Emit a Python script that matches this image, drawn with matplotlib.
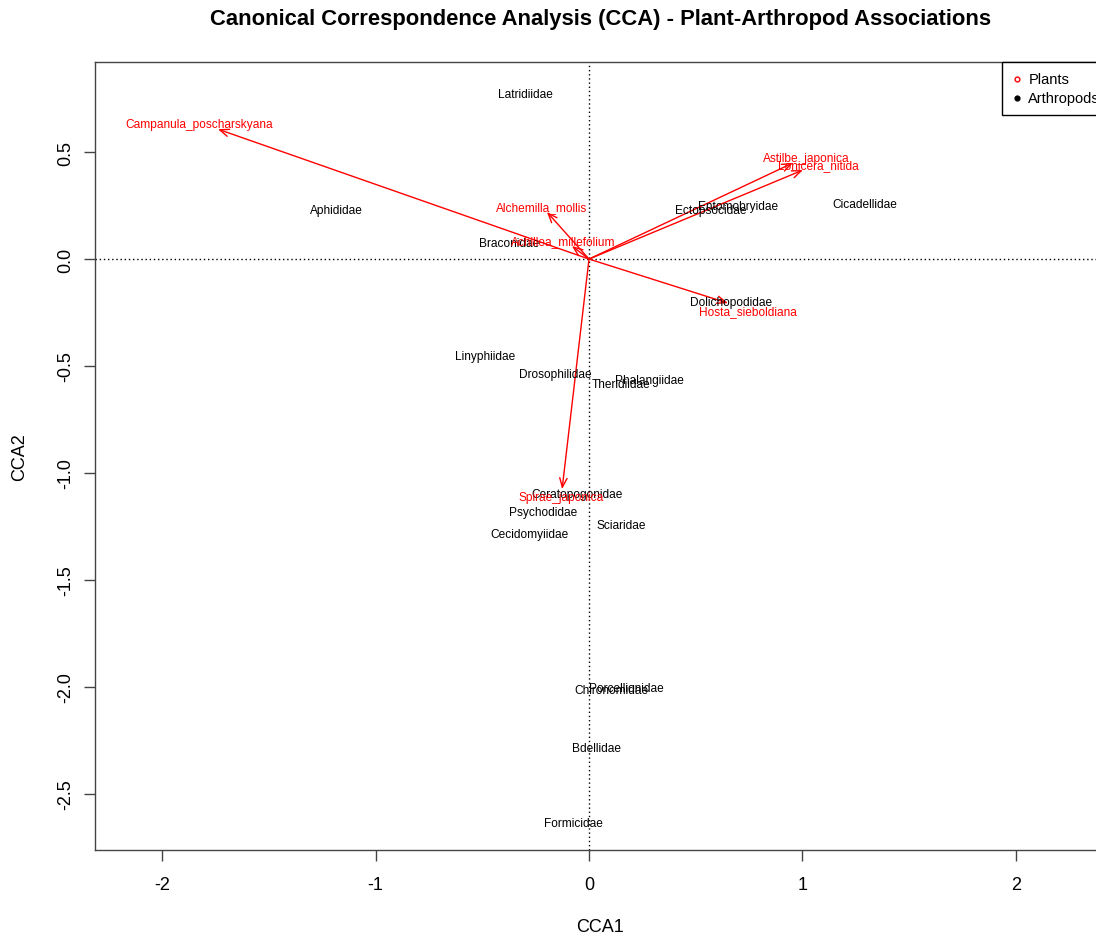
import numpy as np
import matplotlib
matplotlib.use('Agg')
import matplotlib.pyplot as plt

plt.rcParams['font.family'] = ['Liberation Sans', 'DejaVu Sans']
plt.rcParams['axes.unicode_minus'] = False

# CCA site/species scores for arthropod families (CCA1, CCA2)
arthropods = ['Latridiidae', 'Aphididae', 'Ectopsocidae', 'Entomobryidae', 'Cicadellidae',
              'Braconidae', 'Dolichopodidae', 'Linyphiidae', 'Drosophilidae', 'Phalangiidae',
              'Theridiidae', 'Ceratopogonidae', 'Psychodidae', 'Sciaridae', 'Cecidomyiidae',
              'Chironomidae', 'Porcellionidae', 'Bdellidae', 'Formicidae']
arth_cca1 = [-0.300, -1.185, 0.571, 0.698, 1.293,
             -0.375, 0.665, -0.487, -0.159, 0.281,
             0.150, -0.056, -0.215, 0.150, -0.281,
             0.103, 0.173, 0.033, -0.075]
arth_cca2 = [0.780, 0.238, 0.238, 0.257, 0.266,
             0.084, -0.192, -0.444, -0.528, -0.556,
             -0.579, -1.089, -1.173, -1.234, -1.280,
             -2.005, -2.000, -2.276, -2.631]

# biplot arrows for plant species
plants = ['Campanula_poscharskyana', 'Astilbe_japonica', 'Lonicera_nitida', 'Alchemilla_mollis',
          'Achillea_millefolium', 'Hosta_sieboldiana', 'Spirae_japonica']
plant_cca1 = [-1.738, 0.955, 1.002, -0.197, -0.080, 0.651, -0.126]
plant_cca2 = [0.607, 0.449, 0.416, 0.220, 0.061, -0.206, -1.075]

x_ticks = [-2, -1, 0, 1, 2]
y_ticks = [0.5, 0.0, -0.5, -1.0, -1.5, -2.0, -2.5]

W, H = 1096, 937
fig = plt.figure(figsize=(W / 100, H / 100), dpi=100)
ax = fig.add_axes([95 / W, 86 / H, 1010 / W, 788 / H])
ax.set_xlim(-2.314, 2.417)
ax.set_ylim(-2.762, 0.921)

ax.axhline(0, color='black', ls=(0, (1, 2)), lw=1, zorder=1)
ax.axvline(0, color='black', ls=(0, (1, 2)), lw=1, zorder=1)

lab_size = 8.6
for name, x, y in zip(arthropods, arth_cca1, arth_cca2):
    ax.text(x, y, name, fontsize=lab_size, color='black',
            ha='center', va='center_baseline', zorder=3)

# arrow labels pushed off the tip along the arrow direction (vegan style)
fig.canvas.draw()
renderer = fig.canvas.get_renderer()
to_px = ax.transData
for name, x, y in zip(plants, plant_cca1, plant_cca2):
    ax.annotate('', xy=(x, y), xytext=(0, 0),
                arrowprops=dict(arrowstyle='->,head_length=0.55,head_width=0.22',
                                color='red', lw=1, shrinkA=0, shrinkB=0,
                                mutation_scale=12), zorder=2)
    t = ax.text(0, 0, name, fontsize=lab_size, color='red',
                ha='center', va='center_baseline', zorder=3)
    bb = t.get_window_extent(renderer)
    w = bb.width
    h = lab_size * 0.72 * 100 / 72
    tx, ty = to_px.transform((x, y))
    ox, oy = to_px.transform((0, 0))
    b = (ty - oy) / (tx - ox)
    off_x = np.sign(tx - ox) * (w / 2 + h / 4)
    off_y = 0.75 * h * np.sign(ty - oy)
    move = off_y / b
    if abs(move) <= abs(off_x):
        off_x = move
    else:
        off_y = b * off_x
    t.set_position(to_px.inverted().transform((tx + off_x, ty + off_y)))

ax.set_xticks(x_ticks)
ax.set_xticklabels([str(v) for v in x_ticks])
ax.set_yticks(y_ticks)
ax.set_yticklabels([f'{v:.1f}' for v in y_ticks], rotation=90, va='center')
ax.tick_params(direction='out', length=8, width=1, color='#444444', labelsize=13)
ax.tick_params(axis='x', pad=11)
ax.tick_params(axis='y', pad=7)
for s in ax.spines.values():
    s.set_color('#444444')
    s.set_linewidth(1)

ax.set_xlabel('CCA1', fontsize=13, labelpad=18)
ax.set_ylabel('CCA2', fontsize=13, labelpad=21)

fig.text(601 / W, 1 - 20 / H, 'Canonical Correspondence Analysis (CCA) - Plant-Arthropod Associations',
         fontsize=15.8, fontweight='bold', ha='center', va='center')

h_pl = ax.scatter([], [], marker='o', facecolors='white', edgecolors='red', s=12, lw=1)
h_ar = ax.scatter([], [], marker='o', color='black', s=12)
leg = ax.legend([h_pl, h_ar], ['Plants', 'Arthropods'], loc='upper left',
                bbox_to_anchor=((1002 - 95) / 1010, 1.0),
                borderaxespad=0, fontsize=10.5, frameon=True, fancybox=False,
                framealpha=1, edgecolor='black', handletextpad=0.5,
                labelspacing=0.3, borderpad=0.7, handlelength=0.6)
leg.get_frame().set_linewidth(1)

fig.savefig('out.png', dpi=100)
